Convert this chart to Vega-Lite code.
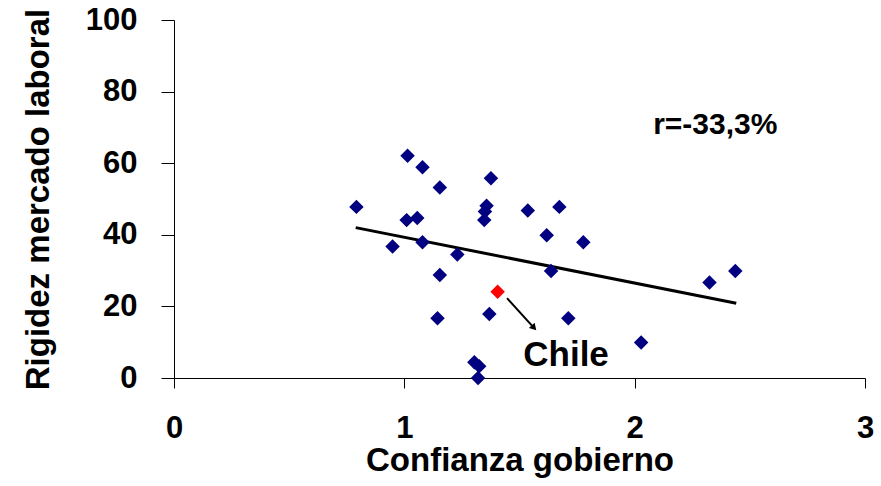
{
  "$schema": "https://vega.github.io/schema/vega-lite/v6.json",
  "width": 691,
  "height": 358,
  "autosize": "none",
  "padding": {"left": 174, "top": 20, "right": 16, "bottom": 108},
  "background": "white",
  "config": {
    "view": {"stroke": null},
    "font": "Liberation Sans",
    "axis": {
      "grid": false,
      "domainColor": "#000000",
      "tickColor": "#000000",
      "domainWidth": 1,
      "tickWidth": 1,
      "labelFont": "Liberation Sans",
      "labelFontWeight": "bold",
      "labelFontSize": 31,
      "labelColor": "#000000",
      "titleFont": "Liberation Sans",
      "titleFontWeight": "bold",
      "titleFontSize": 33,
      "titleColor": "#000000"
    }
  },
  "datasets": {
    "pts": [
      {"conf": 1.014, "rig": 62.1},
      {"conf": 1.079, "rig": 58.9},
      {"conf": 1.154, "rig": 53.2},
      {"conf": 1.376, "rig": 55.8},
      {"conf": 0.792, "rig": 47.8},
      {"conf": 1.357, "rig": 48.1},
      {"conf": 1.350, "rig": 46.5},
      {"conf": 1.347, "rig": 44.1},
      {"conf": 1.010, "rig": 44.1},
      {"conf": 1.056, "rig": 44.7},
      {"conf": 1.536, "rig": 46.8},
      {"conf": 1.673, "rig": 47.8},
      {"conf": 0.949, "rig": 36.7},
      {"conf": 1.079, "rig": 37.9},
      {"conf": 1.618, "rig": 39.9},
      {"conf": 1.777, "rig": 37.9},
      {"conf": 1.230, "rig": 34.5},
      {"conf": 1.154, "rig": 28.8},
      {"conf": 1.637, "rig": 29.9},
      {"conf": 1.144, "rig": 16.7},
      {"conf": 1.369, "rig": 17.9},
      {"conf": 1.712, "rig": 16.7},
      {"conf": 1.304, "rig": 4.4},
      {"conf": 1.325, "rig": 3.3},
      {"conf": 1.320, "rig": 0.0},
      {"conf": 2.437, "rig": 29.9},
      {"conf": 2.325, "rig": 26.7},
      {"conf": 2.028, "rig": 9.9}
    ],
    "chile": [{"conf": 1.405, "rig": 24.1}],
    "trend": [
      {"conf": 0.789, "rig": 42.0},
      {"conf": 2.441, "rig": 20.9}
    ],
    "arrow": [{"x1": 1.446, "y1": 22.3, "x2": 1.563, "y2": 14.0}],
    "labels": [
      {"conf": 2.35, "rig": 70.7, "txt": "r=-33,3%", "size": 30},
      {"conf": 1.702, "rig": 6.4, "txt": "Chile", "size": 35}
    ]
  },
  "layer": [
    {
      "data": {"name": "trend"},
      "mark": {"type": "line", "color": "#000000", "strokeWidth": 3},
      "encoding": {
        "x": {
          "field": "conf", "type": "quantitative",
          "scale": {"domain": [0, 3], "nice": false, "zero": false},
          "axis": {"values": [0, 1, 2, 3], "format": "d", "tickSize": 10, "labelPadding": 25, "title": "Confianza gobierno", "titlePadding": 1, "labelFlush": false}
        },
        "y": {
          "field": "rig", "type": "quantitative",
          "scale": {"domain": [0, 100], "nice": false},
          "axis": {"values": [0, 20, 40, 60, 80, 100], "format": "d", "tickSize": 13, "labelPadding": 24, "title": "Rigidez mercado laboral", "titlePadding": 30, "labelFlush": false}
        }
      }
    },
    {
      "data": {"name": "pts"},
      "mark": {"type": "point", "shape": "diamond", "filled": true, "color": "#000080", "size": 210, "opacity": 1},
      "encoding": {
        "x": {"field": "conf", "type": "quantitative"},
        "y": {"field": "rig", "type": "quantitative"}
      }
    },
    {
      "data": {"name": "chile"},
      "mark": {"type": "point", "shape": "diamond", "filled": true, "color": "#FF0000", "size": 210, "opacity": 1},
      "encoding": {
        "x": {"field": "conf", "type": "quantitative"},
        "y": {"field": "rig", "type": "quantitative"}
      }
    },
    {
      "data": {"name": "arrow"},
      "mark": {"type": "rule", "color": "#000000", "strokeWidth": 2},
      "encoding": {
        "x": {"field": "x1", "type": "quantitative"},
        "y": {"field": "y1", "type": "quantitative"},
        "x2": {"field": "x2"},
        "y2": {"field": "y2"}
      }
    },
    {
      "data": {"name": "arrow"},
      "mark": {"type": "point", "shape": "triangle-up", "filled": true, "color": "#000000", "size": 60, "angle": 138, "opacity": 1},
      "encoding": {
        "x": {"field": "x2", "type": "quantitative"},
        "y": {"field": "y2", "type": "quantitative"}
      }
    },
    {
      "data": {"name": "labels"},
      "mark": {"type": "text", "font": "Liberation Sans", "fontWeight": "bold", "color": "#000000", "align": "center", "baseline": "middle"},
      "encoding": {
        "x": {"field": "conf", "type": "quantitative"},
        "y": {"field": "rig", "type": "quantitative"},
        "text": {"field": "txt"},
        "size": {"field": "size", "type": "quantitative", "scale": null, "legend": null}
      }
    }
  ]
}
